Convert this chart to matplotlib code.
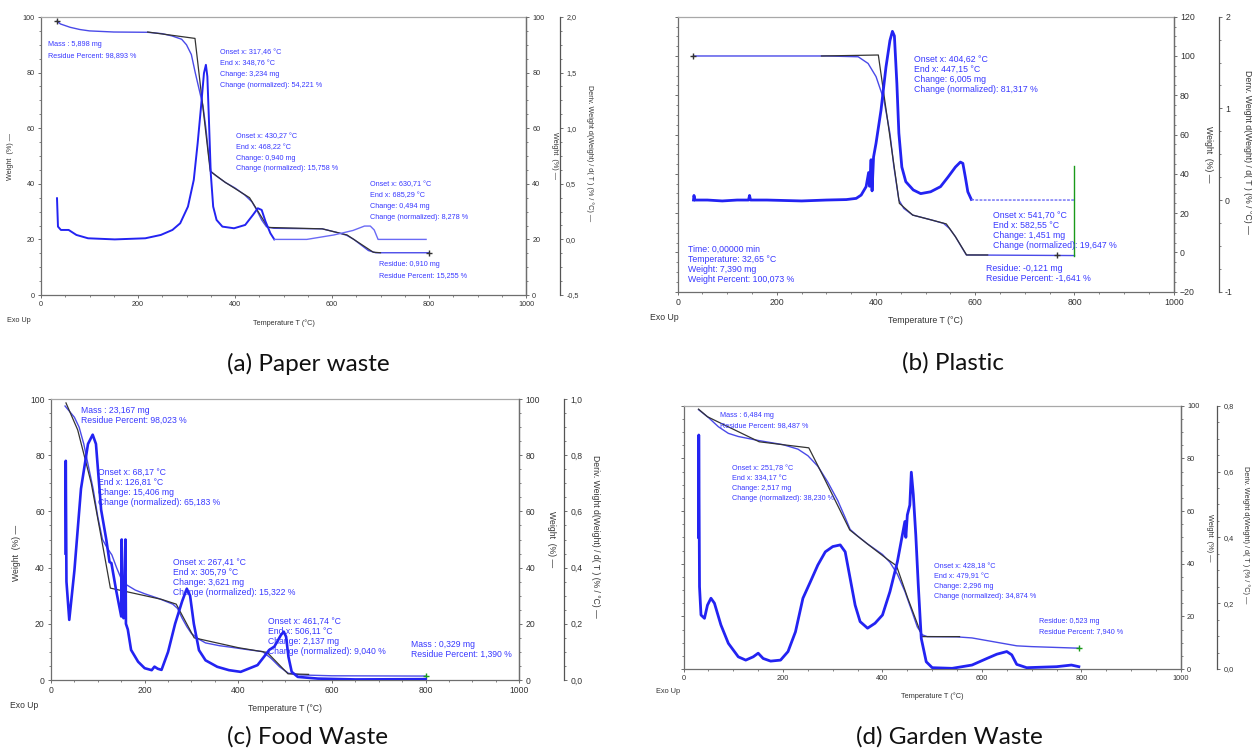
import matplotlib
matplotlib.use('Agg')
import matplotlib.pyplot as plt
from matplotlib.ticker import MultipleLocator, FuncFormatter

# ---------------- (a) Paper waste ----------------
a_T = [33, 40, 60, 80, 100, 150, 220, 250, 270, 290, 300, 310, 318, 326, 334, 340, 346, 350,
       360, 380, 400, 420, 435, 445, 455, 465, 480, 580, 610, 630, 645, 660, 675, 690, 800]
a_w = [98.5, 97.5, 96.3, 95.5, 95.0, 94.6, 94.5, 94.0, 93.2, 92.0, 90.0, 86.5, 80.0, 74.0, 68.0,
       60.0, 50.0, 44.5, 43.0, 40.5, 38.5, 36.0, 33.5, 30.5, 27.0, 24.5, 24.0, 23.8, 22.5, 21.5,
       20.0, 18.0, 16.0, 15.2, 15.2]
a_dT = [33, 35, 41, 57, 73, 97, 152, 215, 247, 271, 287, 303, 315, 323, 330, 336, 340, 343, 346,
        350, 355, 362, 374, 398, 421, 437, 447, 455, 463, 473, 481, 548, 604, 643, 667, 679, 687,
        695, 794]
a_d = [0.37, 0.115, 0.085, 0.085, 0.04, 0.01, 0.0, 0.01, 0.04, 0.085, 0.145, 0.295, 0.535, 0.865,
       1.195, 1.495, 1.57, 1.465, 1.105, 0.595, 0.295, 0.175, 0.115, 0.10, 0.13, 0.22, 0.28, 0.265,
       0.16, 0.055, 0.0, 0.0, 0.04, 0.08, 0.12, 0.12, 0.085, 0.0, 0.0]
a_kT = [220, 317.5, 349, 380, 430, 468, 580, 631, 685, 700]
a_kw = [94.6, 92.3, 44.5, 40.5, 35, 24.3, 23.8, 21.6, 15.4, 15.2]
a_notes = [
    (13.5, 88.2, ["Mass : 5,898 mg", "Residue Percent: 98,893 %"]),
    (370, 81.3, ["Onset x: 317,46 °C", "End x: 348,76 °C", "Change: 3,234 mg",
                 "Change (normalized): 54,221 %"]),
    (401.7, 51.1, ["Onset x: 430,27 °C", "End x: 468,22 °C", "Change: 0,940 mg",
                   "Change (normalized): 15,758 %"]),
    (679, 33.8, ["Onset x: 630,71 °C", "End x: 685,29 °C", "Change: 0,494 mg",
                 "Change (normalized): 8,278 %"]),
    (696.5, 8.9, ["Residue: 0,910 mg", "Residue Percent: 15,255 %"]),
]

# ---------------- (b) Plastic ----------------
b_T = [32, 300, 364, 384, 400, 416, 428, 436, 446, 456, 474, 512, 536, 548, 560, 572, 582, 800]
b_w = [100, 100, 99.6, 96.2, 89.5, 77.6, 60.6, 43.6, 26.7, 22.4, 19.0, 16.5, 14.8, 12.2, 8.0,
       2.9, -1.3, -1.6]
b_dT = [32, 33, 35, 60, 90, 120, 143, 145, 147, 180, 250, 300, 340, 360, 370, 380, 385, 387, 390,
        392, 395, 400, 410, 420, 428, 433, 437, 442, 446, 452, 460, 475, 490, 510, 530, 545, 560,
        570, 575, 580, 585, 592, 600, 800]
b_d = [0.0, 0.05, 0.0, 0.0, -0.01, 0.0, 0.0, 0.05, 0.0, 0.0, -0.01, 0.0, 0.005, 0.018, 0.054,
       0.146, 0.30, 0.15, 0.44, 0.10, 0.47, 0.62, 0.98, 1.45, 1.74, 1.84, 1.79, 1.27, 0.73, 0.36,
       0.20, 0.11, 0.07, 0.09, 0.146, 0.25, 0.36, 0.414, 0.40, 0.25, 0.09, 0.007, 0.0, 0.0]
b_kT = [290, 404.6, 447, 474, 512, 541.7, 560, 582.5, 625]
b_kw = [100, 100.5, 25, 19, 16.5, 14.5, 8, -1.3, -1.3]
b_green_T = [800, 800]
b_green_w = [-1.6, 44]
b_notes = [
    (476, 90.5, ["Onset x: 404,62 °C", "End x: 447,15 °C", "Change: 6,005 mg",
                 "Change (normalized): 81,317 %"]),
    (636, 11.1, ["Onset x: 541,70 °C", "End x: 582,55 °C", "Change: 1,451 mg",
                 "Change (normalized): 19,647 %"]),
    (621.6, -10.8, ["Residue: -0,121 mg", "Residue Percent: -1,641 %"]),
    (21.6, -5.9, ["Time: 0,00000 min", "Temperature: 32,65 °C", "Weight: 7,390 mg",
                  "Weight Percent: 100,073 %"]),
]

# ---------------- (c) Food waste ----------------
c_T = [30, 40, 50, 60, 70, 80, 90, 100, 110, 120, 130, 140, 150, 160, 170, 180, 200, 230, 260,
       270, 280, 290, 300, 316, 330, 360, 387, 420, 452, 470, 488, 507, 534, 600, 800]
c_w = [97.5, 95.5, 93.5, 90, 84, 76, 68, 58, 50, 47, 44.5, 40, 36, 34, 33, 32, 30.7, 29, 27,
       25.5, 22, 19, 16.5, 14.5, 13.2, 12.2, 11.6, 10.8, 10.1, 7.7, 4.7, 2.4, 1.8, 1.5, 1.4]
c_dT = [31, 31.5, 33, 39, 50, 64, 79, 89, 96, 107, 118, 125, 129, 139, 150, 151, 152, 155, 159,
        160, 164, 171, 186, 200, 215, 221, 228, 236, 250, 265, 280, 290, 297, 305, 316, 330, 355,
        380, 405, 441, 455, 466, 477, 491, 497, 502, 507, 514, 527, 570, 650, 800]
c_d = [0.45, 0.78, 0.35, 0.214, 0.39, 0.68, 0.84, 0.873, 0.84, 0.606, 0.50, 0.42, 0.416, 0.32,
       0.226, 0.50, 0.24, 0.22, 0.50, 0.20, 0.18, 0.107, 0.065, 0.042, 0.035, 0.0475, 0.04, 0.036,
       0.10, 0.20, 0.28, 0.325, 0.30, 0.20, 0.106, 0.07, 0.047, 0.035, 0.029, 0.053, 0.083, 0.107,
       0.119, 0.16, 0.172, 0.154, 0.083, 0.029, 0.011, 0.005, 0.002, 0.003]
c_kT = [32, 57, 86, 107, 126.8, 236, 267.4, 305.8, 400, 461.7, 506.1, 550]
c_kw = [98.6, 89, 70, 51, 32.7, 28.7, 27, 15, 11.5, 9.8, 2.2, 2.0]
c_notes = [
    (63, 94.3, ["Mass : 23,167 mg", "Residue Percent: 98,023 %"]),
    (101.3, 68.6, ["Onset x: 68,17 °C", "End x: 126,81 °C", "Change: 15,406 mg",
                   "Change (normalized): 65,183 %"]),
    (260.6, 36.5, ["Onset x: 267,41 °C", "End x: 305,79 °C", "Change: 3,621 mg",
                   "Change (normalized): 15,322 %"]),
    (464, 15.4, ["Onset x: 461,74 °C", "End x: 506,11 °C", "Change: 2,137 mg",
                 "Change (normalized): 9,040 %"]),
    (769.6, 10.9, ["Mass : 0,329 mg", "Residue Percent: 1,390 %"]),
]

# ---------------- (d) Garden waste ----------------
d_T = [30, 50, 70, 90, 110, 150, 200, 230, 250, 270, 290, 310, 325, 335, 350, 370, 400, 415,
       430, 445, 460, 470, 480, 490, 550, 580, 610, 640, 670, 700, 795]
d_w = [98.5, 95.5, 92, 89.5, 88.3, 86.8, 85.2, 83.5, 81, 77, 71, 64, 57.5, 53, 50.5, 47.5, 43.5,
       40.5, 36, 29.5, 21.5, 16, 13, 12.3, 12.2, 11.8, 10.8, 9.8, 8.8, 8.5, 7.9]
d_dT = [30, 30.5, 32, 35, 42, 48, 55, 62, 75, 90, 110, 125, 140, 150, 160, 175, 195, 210, 225,
        240, 255, 270, 285, 300, 315, 325, 335, 345, 355, 370, 385, 400, 415, 430, 445, 447, 450,
        455, 458, 462, 467, 472, 478, 488, 500, 540, 580, 610, 630, 650, 660, 670, 690, 750, 780,
        795]
d_d = [0.40, 0.711, 0.25, 0.164, 0.154, 0.194, 0.215, 0.20, 0.134, 0.078, 0.037, 0.027, 0.037,
       0.048, 0.032, 0.024, 0.027, 0.053, 0.113, 0.215, 0.265, 0.316, 0.356, 0.372, 0.377, 0.356,
       0.275, 0.194, 0.144, 0.124, 0.139, 0.164, 0.235, 0.326, 0.448, 0.40, 0.468, 0.498, 0.598,
       0.53, 0.407, 0.255, 0.093, 0.022, 0.004, 0.002, 0.012, 0.032, 0.045, 0.053, 0.043, 0.014,
       0.004, 0.007, 0.012, 0.007]
d_kT = [30, 48, 152, 195, 251.8, 283, 334.2, 371, 409, 428.2, 451, 479.9, 555]
d_kw = [98.7, 95.8, 86.3, 85.3, 84, 72.4, 52.8, 47.3, 41.8, 39.2, 26.8, 12.3, 12.3]
d_notes = [
    (74.2, 94.2, ["Mass : 6,484 mg", "Residue Percent: 98,487 %"]),
    (98.2, 70.5, ["Onset x: 251,78 °C", "End x: 334,17 °C", "Change: 2,517 mg",
                  "Change (normalized): 38,230 %"]),
    (502.8, 33.4, ["Onset x: 428,18 °C", "End x: 479,91 °C", "Change: 2,296 mg",
                   "Change (normalized): 34,874 %"]),
    (714, 16.1, ["Residue: 0,523 mg", "Residue Percent: 7,940 %"]),
]

captions = ["(a) Paper waste", "(b) Plastic", "(c) Food Waste", "(d) Garden Waste"]

DERIV_LABEL = "Deriv. Weight d(Weight) / d( T ) (% / °C) \u2014"
WEIGHT_LABEL = "Weight  (%) \u2014"

BLUE = '#2323f2'
WBLUE = '#4a4ae8'
TBLUE = '#3838ff'
SPINE = '#6e6e6e'
FONT = ['Liberation Sans', 'DejaVu Sans']

fig = plt.figure(figsize=(12.52, 7.55), dpi=100)


def fmt_comma(dec):
    def f(v, pos):
        return f'{v:.{dec}f}'.replace('.', ',')
    return FuncFormatter(f)


def style_ticks(axis_obj, tick_fs):
    axis_obj.tick_params(which='major', length=2.5, width=0.7, color=SPINE, labelsize=tick_fs,
                         labelcolor='#333333', pad=2)
    axis_obj.tick_params(which='minor', length=1.5, width=0.6, color=SPINE)


def draw_panel(rect, sec_pos, wlim, dlim, dstep, dminor, ddec, T, w, dT, d, kT, kw, notes,
               left_labels, tick_fs, note_fs, note_sp, lab_pos, deriv_lw, tail=None):
    ax = fig.add_axes(rect)
    ax.set_xlim(0, 1000)
    ax.set_ylim(*wlim)
    ax.xaxis.set_major_locator(MultipleLocator(200))
    ax.xaxis.set_minor_locator(MultipleLocator(50))
    ax.yaxis.set_major_locator(MultipleLocator(20))
    ax.yaxis.set_minor_locator(MultipleLocator(5))
    style_ticks(ax, tick_fs)
    if not left_labels:
        ax.tick_params(axis='y', which='both', left=False, labelleft=False)
    for s in ax.spines.values():
        s.set_color(SPINE)
        s.set_linewidth(0.9)
    ax.spines['top'].set_color('#a8a8a8')

    # right weight axis
    axr = ax.twinx()
    axr.set_ylim(*wlim)
    axr.yaxis.set_major_locator(MultipleLocator(20))
    axr.yaxis.set_minor_locator(MultipleLocator(5))
    style_ticks(axr, tick_fs)
    for s in ['left', 'top', 'bottom']:
        axr.spines[s].set_visible(False)
    axr.spines['right'].set_color(SPINE)
    axr.spines['right'].set_linewidth(0.9)

    # derivative axis, offset to the right
    axd = ax.twinx()
    axd.spines['right'].set_position(('axes', sec_pos))
    axd.set_ylim(*dlim)
    axd.yaxis.set_major_locator(MultipleLocator(dstep))
    axd.yaxis.set_minor_locator(MultipleLocator(dminor))
    axd.yaxis.set_major_formatter(fmt_comma(ddec))
    style_ticks(axd, tick_fs)
    for s in ['left', 'top', 'bottom']:
        axd.spines[s].set_visible(False)
    axd.spines['right'].set_color('#555555')
    axd.spines['right'].set_linewidth(0.9)

    # curves
    ax.plot(T, w, color=WBLUE, lw=1.0, zorder=2)
    ax.plot(kT, kw, color='#333333', lw=0.9, zorder=3)
    if tail is None:
        axd.plot(dT, d, color=BLUE, lw=deriv_lw, zorder=2)
    else:
        # end of the derivative trace is drawn fainter, as in the instrument plot
        t0, tail_ls = tail
        head = [i for i, t in enumerate(dT) if t <= t0]
        rest = [i for i, t in enumerate(dT) if t >= t0]
        axd.plot([dT[i] for i in head], [d[i] for i in head], color=BLUE, lw=deriv_lw, zorder=2)
        axd.plot([dT[i] for i in rest], [d[i] for i in rest], color='#6a6af5', lw=1.0,
                 ls=tail_ls, zorder=2)

    # annotations, one line at a time
    for x, y, lines in notes:
        n = len(lines)
        for i, line in enumerate(lines):
            ax.annotate(line, xy=(x, y), xytext=(0, ((n - 1) / 2 - i) * note_sp),
                        textcoords='offset points', ha='left', va='center',
                        fontsize=note_fs, color=TBLUE, zorder=5)

    # axis labels
    wl_x, dl_x, left_x, left_y = lab_pos
    ax.text(wl_x, 0.5, WEIGHT_LABEL, transform=ax.transAxes, rotation=270, ha='center',
            va='center', fontsize=tick_fs, color='#333333')
    ax.text(dl_x, 0.51, DERIV_LABEL, transform=ax.transAxes, rotation=270, ha='center',
            va='center', fontsize=tick_fs, color='#333333')
    if left_labels:
        ax.text(left_x, left_y, WEIGHT_LABEL, transform=ax.transAxes, rotation=90,
                ha='center', va='center', fontsize=tick_fs, color='#333333')
    ax.text(0.5, -0.103, "Temperature T (°C)", transform=ax.transAxes, ha='center',
            va='center', fontsize=tick_fs, color='#333333')
    return ax, axd


plt.rcParams['font.family'] = FONT
W, H = 1252, 755


def rect(l, r, t, b):
    return [l / W, 1 - b / H, (r - l) / W, (b - t) / H]


# (a)
ax_a, axd_a = draw_panel(rect(41, 526, 17, 295), 1.070, (0, 100), (-0.5, 2.0), 0.5, 0.125, 1,
                         a_T, a_w, a_dT, a_d, a_kT, a_kw, a_notes, True, 5.2, 5.2, 7.7,
                         (1.058, 1.132, -0.062, 0.5), 1.4, tail=(481, '-'))
ax_a.plot([33, 800], [98.5, 15.2], ls='none', marker='+', ms=4, color='#333333', zorder=4)
ax_a.text(-0.07, -0.09, "Exo Up", transform=ax_a.transAxes, ha='left', va='center',
          fontsize=5.2, color='#333333')

# (b)
ax_b, axd_b = draw_panel(rect(677.6, 1173.7, 16.7, 291.7), 1.091, (-20, 120), (-1, 2), 1, 0.25, 0,
                         b_T, b_w, b_dT, b_d, b_kT, b_kw, b_notes, False, 6.3, 6.3, 7.2,
                         (1.071, 1.148, 0, 0), 2.0, tail=(592, (0, (2, 1))))
ax_b.plot(b_green_T, b_green_w, color='#1a9a1a', lw=1.0, zorder=4)
ax_b.plot([32, 765], [100, -1.3], ls='none', marker='+', ms=4, color='#333333', zorder=4)
ax_b.text(-0.0556, -0.092, "Exo Up", transform=ax_b.transAxes, ha='left', va='center',
          fontsize=6.3, color='#333333')

# (c)
ax_c, axd_c = draw_panel(rect(51, 519.3, 399, 680), 1.0965, (0, 100), (0, 1.0), 0.2, 0.05, 1,
                         c_T, c_w, c_dT, c_d, c_kT, c_kw, c_notes, True, 6.2, 6.2, 7.2,
                         (1.068, 1.162, -0.073, 0.452), 1.9)
ax_c.plot([800], [1.4], ls='none', marker='+', ms=4, color='#1a9a1a', zorder=4)
ax_c.text(-0.0876, -0.091, "Exo Up", transform=ax_c.transAxes, ha='left', va='center',
          fontsize=6.2, color='#333333')

# (d)
ax_d, axd_d = draw_panel(rect(683.6, 1180.8, 405.7, 669), 1.073, (0, 100), (0, 0.8), 0.2, 0.05, 1,
                         d_T, d_w, d_dT, d_d, d_kT, d_kw, d_notes, False, 5.3, 5.2, 7.2,
                         (1.057, 1.13, 0, 0), 2.0)
ax_d.plot([795], [7.9], ls='none', marker='+', ms=4, color='#1a9a1a', zorder=4)
ax_d.text(-0.0555, -0.084, "Exo Up", transform=ax_d.transAxes, ha='left', va='center',
          fontsize=5.3, color='#333333')

# captions
cap_pos = [(308.5, 364), (952.5, 363), (307.6, 737), (949, 737)]
for (cx, cy), cap in zip(cap_pos, captions):
    fig.text(cx / W, 1 - cy / H, cap, ha='center', va='center', fontsize=17.5,
             family=['Lato', 'DejaVu Sans'], color='#111111')

fig.savefig('out.png', dpi=100)
